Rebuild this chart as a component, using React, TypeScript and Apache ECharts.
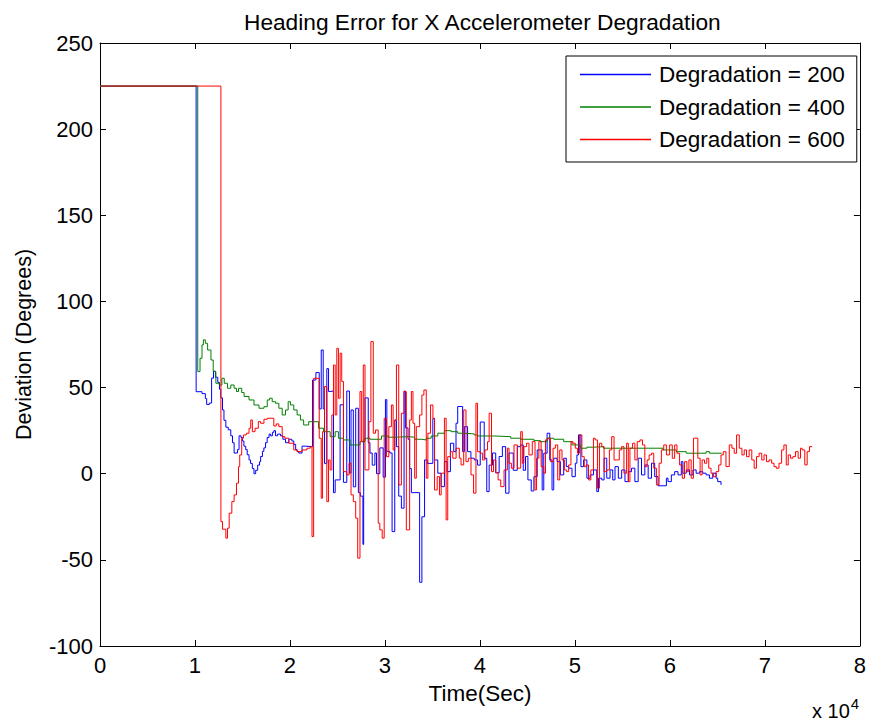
import React, { useEffect, useRef } from "react";
import * as echarts from "echarts";

const titleText = "Heading Error for X Accelerometer Degradation";
const xName = "Time(Sec)";
const yName = "Deviation (Degrees)";
const seriesNames = ["Degradation = 200", "Degradation = 400", "Degradation = 600"];
const seriesColors = ["#0000ff", "#008000", "#ff0000"];

// time in units of 1e4 s, deviation in degrees
const blueData = [
  [0,225],[1.012,47.6],[1.074,46.5],[1.109,43.7],[1.123,40.2],[1.151,41],[1.175,55.5],[1.195,59.5],[1.215,56],[1.24,53],[1.258,49],[1.272,44],[1.29,37],[1.305,31],[1.325,27],[1.35,25.5],[1.377,22],[1.395,18],[1.412,12],[1.447,14],[1.464,22],[1.485,21],[1.499,19],[1.515,16],[1.534,14],[1.55,11],[1.569,8],[1.585,6],[1.604,3],[1.621,0],[1.639,2],[1.66,5],[1.68,7],[1.691,10],[1.71,13],[1.725,15],[1.743,18],[1.76,21],[1.78,23],[1.796,22],[1.815,24],[1.83,25],[1.848,22],[1.87,23],[1.9,22],[1.925,20],[1.953,18],[1.988,20],[2.02,19],[2.04,17],[2.06,14],[2.075,13],[2.092,12],[2.127,16],[2.16,15.7],
  [2.238,54.4],[2.273,58.7],[2.308,37.6],[2.329,71.8],[2.35,37.6],[2.364,6],[2.388,61],[2.406,47.7],[2.423,48],[2.458,-11],[2.476,-3.6],[2.528,40],[2.563,-5],[2.598,48],[2.626,0.4],[2.643,37],[2.667,-7.6],[2.692,38],[2.72,-11],[2.741,-13],[2.768,-41],[2.776,19.6],[2.79,44],[2.824,18],[2.842,12],[2.866,5],[2.894,12],[2.911,0],[2.946,15],[2.981,-2],[3.005,43],[3.02,13],[3.051,12],[3.075,-33.6],[3.103,31],[3.121,15.7],[3.145,-13],[3.173,-20],[3.201,48],[3.215,26.6],
  [3.243,20],[3.26,3],[3.278,-11],[3.365,-63],[3.389,-25],[3.417,8],[3.445,6],[3.504,32],[3.522,8],[3.556,0.3],[3.591,-7.5],[3.626,7],[3.654,1.2],[3.689,17.7],[3.724,12.8],[3.748,29.3],[3.766,39],[3.818,12.8],[3.836,27.3],[3.87,12.8],[3.905,9],[3.94,8],[3.975,5],[4.003,30],[4.045,9],[4.072,-10.4],[4.097,5],[4.132,12],[4.166,0.5],[4.202,10],[4.236,15.7],[4.271,-11.3],[4.306,12],[4.351,2],[4.393,15.7],[4.428,16.7],[4.456,2],[4.48,10],[4.505,-3.6],[4.54,-10],
  [4.568,-1.7],[4.603,13.8],[4.655,-9.4],[4.672,11.9],[4.707,23.5],[4.735,8],[4.759,-9.4],[4.777,9],[4.812,7],[4.847,-0.7],[4.882,9],[4.909,4.1],[4.934,3.2],[4.969,-1.7],[5.004,6.1],[5.021,10.9],[5.038,22.5],[5.063,4.1],[5.091,8],[5.126,-2.6],[5.16,-0.7],[5.195,2.2],[5.23,-10.4],[5.248,-2.6],[5.283,-3.6],[5.307,9],[5.335,-2.6],[5.37,2.2],[5.398,-3.6],[5.422,4.1],[5.457,-2.6],[5.492,2.2],[5.527,-4.6],[5.562,1.2],[5.596,3.2],[5.631,-4.6],[5.666,9],[5.701,-0.7],[5.736,5.1],[5.771,-2.6],[5.806,6.1],[5.84,-1.7],[5.875,-7],
  [5.963,-2.6],[5.98,-4.6],[6.015,-0.7],[6.05,1.2],[6.085,-0.7],[6.12,7],[6.137,0.3],[6.172,2.2],[6.207,-0.7],[6.242,2.2],[6.276,0.3],[6.311,1.2],[6.346,0.3],[6.381,-0.7],[6.416,-2.6],[6.451,0.3],[6.486,-2.6],[6.503,-4.6],[6.538,-6.5],[6.545,-6.5]
];

const greenData = [
  [0,225],[1.029,59.3],[1.053,67],[1.074,74.8],[1.088,77.7],[1.109,75.7],[1.133,71.8],[1.168,66],[1.192,59.3],[1.22,52.5],[1.255,51.5],[1.283,55.4],[1.308,52.5],[1.342,49.6],[1.377,51.5],[1.412,49.6],[1.437,47.7],[1.458,49.6],[1.492,47.1],[1.517,44.8],[1.569,42.8],[1.621,39.9],[1.674,38],[1.726,38.9],[1.761,42.8],[1.785,43.8],[1.813,41.8],[1.848,40.9],[1.883,38],[1.918,34.1],[1.953,37],[1.981,41.8],[2.005,39.9],[2.04,37],[2.075,34.1],[2.11,31.2],[2.144,28.3],[2.197,30.2],[2.301,26.4],[2.354,24.4],[2.423,21.5],[2.476,24.4],[2.51,20.6],[2.563,19.6],[2.632,16.7],[2.737,18.6],[2.79,20.6],[2.842,20],[2.964,21.9],[3.034,21.2],[3.103,21.5],[3.243,21.2],[3.313,20],[3.382,19.6],[3.435,20.6],[3.487,21.9],[3.557,23.5],[3.626,25],[3.696,24.4],[3.766,23.5],[3.836,23.1],[3.94,22.5],[3.975,21.9],[4.149,21.5],[4.324,20.6],[4.429,20],[4.568,19.2],[4.637,18.6],[4.707,20.6],[4.777,20],[4.882,18.6],[4.969,16.7],[5.056,14.8],[5.126,15.4],[5.195,15.7],[5.3,14.8],[5.928,13.8],[6.067,12.8],[6.172,11.9],[6.381,12.8],[6.416,11.9],[6.545,11.9]
];

const redData = [
  [0,225],[1.273,-27.8],[1.29,-32.2],[1.325,-37.4],[1.342,-31.6],[1.36,-22.9],[1.388,-16.2],[1.412,-12.3],[1.437,-5.5],[1.458,4.1],[1.471,10.9],[1.492,20.6],[1.51,22.5],[1.541,23.5],[1.569,26.4],[1.587,31.2],[1.604,24.4],[1.632,26.4],[1.667,30.2],[1.691,29.3],[1.726,31.6],[1.761,32.2],[1.83,27.7],[1.855,28.9],[1.883,27.3],[1.918,21.5],[1.946,20.6],[1.988,17.7],[2.04,13.8],[2.075,12.8],[2.127,13.8],[2.179,14.8],[2.214,15.7],
  [2.232,-36.5],[2.249,55.4],[2.308,20.6],[2.329,-14.2],[2.343,24.4],[2.364,50.6],[2.388,-16.2],[2.406,8],[2.423,2.2],[2.441,34.1],[2.458,63.1],[2.476,34.1],[2.493,72.8],[2.51,43.8],[2.528,69.9],[2.545,53.5],[2.563,1.2],[2.598,-0.7],[2.622,6.1],[2.643,-12.3],[2.667,-16.2],[2.692,-25.8],[2.713,-49],[2.737,47.7],[2.755,18.6],[2.772,63.1],[2.79,2.2],[2.831,30.2],[2.852,76.7],[2.877,23.5],[2.901,25.4],[2.929,-28.7],[2.946,-32.6],[2.971,-37.4],[2.992,32.2],[3.016,9.9],[3.041,27.3],[3.068,39.9],[3.086,13.8],[3.103,31.2],[3.121,63.1],[3.145,-6.5],[3.173,35.1],[3.201,47.7],[3.225,-32.6],
  [3.26,31.2],[3.278,47.7],[3.295,29.3],[3.313,-2.6],[3.33,27.3],[3.365,34.1],[3.389,45.7],[3.41,48.6],[3.435,-2.6],[3.452,23.5],[3.48,39.9],[3.505,32.2],[3.522,-9.4],[3.55,-1.7],[3.574,-12.3],[3.592,0.3],[3.626,32.2],[3.644,-26.8],[3.661,9.9],[3.689,12.8],[3.714,9],[3.749,14.8],[3.783,9],[3.801,5.1],[3.829,37],[3.853,7],[3.878,9],[3.906,-0.7],[3.933,-11.3],[3.958,40.9],[3.975,12.8],[4.003,11.9],[4.028,8],[4.052,13.8],[4.08,18.6],[4.097,35.1],[4.122,1.2],[4.143,8],[4.167,0.6],[4.191,-3.6],[4.219,-7.5],[4.254,2.2],[4.289,14.8],[4.306,6.1],[4.331,3.2],[4.359,16.7],[4.394,3.2],[4.429,24.4],[4.446,6.1],[4.463,15.7],[4.491,17.7],[4.516,10.9],[4.551,18.6],[4.58,-9.4],
  [4.596,9],[4.62,18.6],[4.644,4.1],[4.672,0.3],[4.69,19.6],[4.714,20.6],[4.742,7],[4.77,14.8],[4.794,16.7],[4.819,-3.6],[4.84,13.8],[4.864,8],[4.889,2.2],[4.913,1.2],[4.934,5.1],[4.958,18.6],[4.979,17.7],[5.004,14.8],[5.028,11.9],[5.049,22.5],[5.073,9.9],[5.098,4.1],[5.119,5.1],[5.143,-3.6],[5.168,2.2],[5.195,20.6],[5.213,19.6],[5.237,-8.4],[5.258,17.7],[5.283,15.7],[5.307,1.2],[5.335,2.2],[5.363,13.8],[5.387,21.5],[5.412,8],[5.44,8],[5.467,13.8],[5.492,15.7],[5.516,0.3],[5.544,17.7],[5.562,-4.6],[5.579,14.8],[5.607,17.7],[5.631,8],[5.656,18.6],[5.684,19.6],[5.711,16.7],[5.736,4.1],[5.76,8],[5.781,10.9],[5.806,11.9],[5.83,3.2],
  [5.858,-6.5],[5.886,6.1],[5.91,13.8],[5.935,16.7],[5.963,10.9],[5.997,16.7],[6.025,9],[6.05,16.7],[6.074,11.9],[6.102,5.1],[6.13,-2.6],[6.154,7],[6.179,1.2],[6.2,8],[6.224,-2.6],[6.248,20.6],[6.294,9],[6.318,-0.7],[6.339,8],[6.364,6.1],[6.388,9],[6.409,3.2],[6.433,0.3],[6.458,-1.7],[6.486,1.2],[6.514,5.1],[6.538,10.9],[6.562,12.8],[6.59,4.1],[6.625,16.7],[6.653,14.8],[6.677,11.9],[6.702,22.5],[6.73,14.8],[6.758,10.9],[6.782,13.8],[6.806,9.9],[6.834,13.8],[6.862,8],[6.887,3.2],[6.911,9.9],[6.939,11.9],[6.967,8],[6.991,10.9],[7.016,7],[7.044,8],[7.071,6.1],[7.096,4.1],[7.12,3.2],[7.148,6.1],[7.176,13.8],[7.2,16.7],[7.225,5.1],[7.246,10.9],[7.27,9],[7.295,9.9],[7.322,12.8],[7.35,9],[7.375,14.8],[7.392,13.8],[7.42,5.1],[7.445,12.8],[7.469,15.7],[7.497,15.7]
];

const FONT = "'Liberation Sans', Arial, sans-serif";

export default function App() {
  const ref = useRef<HTMLDivElement>(null);
  useEffect(() => {
    if (!ref.current) return;
    const chart = echarts.init(ref.current, null, { renderer: "svg" });
    const axisLine = { show: true, onZero: false, lineStyle: { color: "#000", width: 1 } };
    const tick = { show: true, inside: true, length: 6, lineStyle: { color: "#000", width: 1 } };
    chart.setOption({
      animation: false,
      backgroundColor: "#fff",
      title: {
        text: titleText,
        left: 239,
        top: 5,
        textStyle: { fontFamily: FONT, fontSize: 22.7, fontWeight: "normal", color: "#000" },
      },
      legend: {
        orient: "vertical",
        left: 566,
        top: 56,
        padding: [7, 12, 11, 14],
        itemGap: 9.5,
        itemWidth: 71,
        itemHeight: 1.5,
        icon: "rect",
        itemStyle: { borderWidth: 0 },
        backgroundColor: "#fff",
        borderColor: "#000",
        borderWidth: 1,
        textStyle: { fontFamily: FONT, fontSize: 22.5, color: "#000", padding: [0, 0, 0, 3], lineHeight: 22 },
        data: seriesNames.map((n, i) => ({ name: n, itemStyle: { color: seriesColors[i], borderWidth: 0 } })),
      },
      grid: { left: 100, right: 4, top: 43, bottom: 76, containLabel: false },
      xAxis: [
        {
          type: "value", min: 0, max: 8, interval: 1, position: "bottom",
          axisLine, axisTick: tick, splitLine: { show: false },
          axisLabel: { fontFamily: FONT, fontSize: 22, color: "#000", margin: 8 },
          name: xName, nameLocation: "middle", nameGap: 36,
          nameTextStyle: { fontFamily: FONT, fontSize: 22.5, color: "#000" },
        },
        {
          type: "value", min: 0, max: 8, interval: 1, position: "top",
          axisLine, axisTick: tick, splitLine: { show: false }, axisLabel: { show: false },
        },
      ],
      yAxis: [
        {
          type: "value", min: -100, max: 250, interval: 50, position: "left",
          axisLine, axisTick: tick, splitLine: { show: false },
          axisLabel: { fontFamily: FONT, fontSize: 22, color: "#000", margin: 7 },
          name: yName, nameLocation: "middle", nameGap: 65,
          nameTextStyle: { fontFamily: FONT, fontSize: 21.5, color: "#000" },
        },
        {
          type: "value", min: -100, max: 250, interval: 50, position: "right",
          axisLine, axisTick: tick, splitLine: { show: false }, axisLabel: { show: false },
        },
      ],
      graphic: [
        {
          type: "text",
          left: 812,
          top: 696,
          style: {
            text: "x 10{s|4}",
            fontFamily: FONT,
            fontSize: 20,
            fill: "#000",
            rich: { s: { fontFamily: FONT, fontSize: 15, verticalAlign: "top", padding: [0, 0, 14, 1] } },
          },
        },
      ],
      series: [blueData, greenData, redData].map((d, i) => ({
        name: seriesNames[i],
        type: "line",
        step: "end",
        data: d,
        symbol: "none",
        showSymbol: false,
        xAxisIndex: 0,
        yAxisIndex: 0,
        lineStyle: { color: seriesColors[i], width: 1 },
        itemStyle: { color: seriesColors[i] },
        emphasis: { disabled: true },
      })),
    });
    return () => chart.dispose();
  }, []);
  return (
    <div
      ref={ref}
      style={{ position: "fixed", left: 0, top: 0, width: 869, height: 722, background: "#fff" }}
    />
  );
}
